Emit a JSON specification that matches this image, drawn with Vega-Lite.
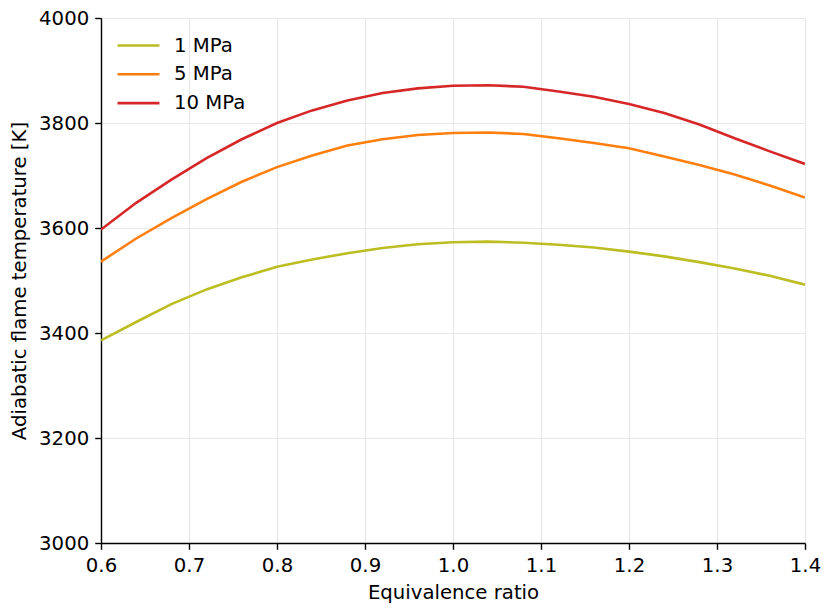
{
  "$schema": "https://vega.github.io/schema/vega-lite/v6.json",
  "width": 704,
  "height": 525,
  "autosize": {"type": "none"},
  "padding": {"left": 101, "top": 18, "right": 20, "bottom": 65},
  "background": "white",
  "config": {
    "view": {"stroke": null},
    "font": "DejaVu Sans",
    "axis": {
      "labelFont": "DejaVu Sans",
      "titleFont": "DejaVu Sans",
      "labelFontSize": 19.7,
      "titleFontSize": 19.7,
      "titleFontWeight": "normal",
      "labelColor": "black",
      "titleColor": "black",
      "domainColor": "black",
      "tickColor": "black",
      "domainWidth": 1.4,
      "tickWidth": 1.4,
      "tickSize": 6.3,
      "labelPadding": 6,
      "gridColor": "#e8e8e8",
      "gridWidth": 1.2,
      "labelOverlap": false,
      "labelFlush": false
    },
    "legend": {
      "labelFont": "DejaVu Sans",
      "labelFontSize": 19.7,
      "labelColor": "black"
    }
  },
  "data": {
    "values": [
      {"phi": 0.60, "T": 3386, "p": "1 MPa"},
      {"phi": 0.64, "T": 3421, "p": "1 MPa"},
      {"phi": 0.68, "T": 3455, "p": "1 MPa"},
      {"phi": 0.72, "T": 3483, "p": "1 MPa"},
      {"phi": 0.76, "T": 3506, "p": "1 MPa"},
      {"phi": 0.80, "T": 3526, "p": "1 MPa"},
      {"phi": 0.84, "T": 3540, "p": "1 MPa"},
      {"phi": 0.88, "T": 3552, "p": "1 MPa"},
      {"phi": 0.92, "T": 3562, "p": "1 MPa"},
      {"phi": 0.96, "T": 3569, "p": "1 MPa"},
      {"phi": 1.00, "T": 3573, "p": "1 MPa"},
      {"phi": 1.04, "T": 3574, "p": "1 MPa"},
      {"phi": 1.08, "T": 3572, "p": "1 MPa"},
      {"phi": 1.12, "T": 3568, "p": "1 MPa"},
      {"phi": 1.16, "T": 3563, "p": "1 MPa"},
      {"phi": 1.20, "T": 3555, "p": "1 MPa"},
      {"phi": 1.24, "T": 3546, "p": "1 MPa"},
      {"phi": 1.28, "T": 3535, "p": "1 MPa"},
      {"phi": 1.32, "T": 3523, "p": "1 MPa"},
      {"phi": 1.36, "T": 3509, "p": "1 MPa"},
      {"phi": 1.40, "T": 3492, "p": "1 MPa"},
      {"phi": 0.60, "T": 3536, "p": "5 MPa"},
      {"phi": 0.64, "T": 3580, "p": "5 MPa"},
      {"phi": 0.68, "T": 3619, "p": "5 MPa"},
      {"phi": 0.72, "T": 3655, "p": "5 MPa"},
      {"phi": 0.76, "T": 3688, "p": "5 MPa"},
      {"phi": 0.80, "T": 3716, "p": "5 MPa"},
      {"phi": 0.84, "T": 3738, "p": "5 MPa"},
      {"phi": 0.88, "T": 3757, "p": "5 MPa"},
      {"phi": 0.92, "T": 3769, "p": "5 MPa"},
      {"phi": 0.96, "T": 3777, "p": "5 MPa"},
      {"phi": 1.00, "T": 3781, "p": "5 MPa"},
      {"phi": 1.04, "T": 3782, "p": "5 MPa"},
      {"phi": 1.08, "T": 3779, "p": "5 MPa"},
      {"phi": 1.12, "T": 3771, "p": "5 MPa"},
      {"phi": 1.16, "T": 3762, "p": "5 MPa"},
      {"phi": 1.20, "T": 3752, "p": "5 MPa"},
      {"phi": 1.24, "T": 3736, "p": "5 MPa"},
      {"phi": 1.28, "T": 3720, "p": "5 MPa"},
      {"phi": 1.32, "T": 3702, "p": "5 MPa"},
      {"phi": 1.36, "T": 3681, "p": "5 MPa"},
      {"phi": 1.40, "T": 3658, "p": "5 MPa"},
      {"phi": 0.60, "T": 3597, "p": "10 MPa"},
      {"phi": 0.64, "T": 3648, "p": "10 MPa"},
      {"phi": 0.68, "T": 3692, "p": "10 MPa"},
      {"phi": 0.72, "T": 3733, "p": "10 MPa"},
      {"phi": 0.76, "T": 3769, "p": "10 MPa"},
      {"phi": 0.80, "T": 3800, "p": "10 MPa"},
      {"phi": 0.84, "T": 3824, "p": "10 MPa"},
      {"phi": 0.88, "T": 3843, "p": "10 MPa"},
      {"phi": 0.92, "T": 3857, "p": "10 MPa"},
      {"phi": 0.96, "T": 3866, "p": "10 MPa"},
      {"phi": 1.00, "T": 3871, "p": "10 MPa"},
      {"phi": 1.04, "T": 3872, "p": "10 MPa"},
      {"phi": 1.08, "T": 3869, "p": "10 MPa"},
      {"phi": 1.12, "T": 3860, "p": "10 MPa"},
      {"phi": 1.16, "T": 3850, "p": "10 MPa"},
      {"phi": 1.20, "T": 3836, "p": "10 MPa"},
      {"phi": 1.24, "T": 3819, "p": "10 MPa"},
      {"phi": 1.28, "T": 3797, "p": "10 MPa"},
      {"phi": 1.32, "T": 3771, "p": "10 MPa"},
      {"phi": 1.36, "T": 3746, "p": "10 MPa"},
      {"phi": 1.40, "T": 3722, "p": "10 MPa"}
    ]
  },
  "mark": {"type": "line", "strokeWidth": 2.6, "clip": true},
  "encoding": {
    "x": {
      "field": "phi",
      "type": "quantitative",
      "title": "Equivalence ratio",
      "scale": {"domain": [0.6, 1.4], "nice": false, "zero": false},
      "axis": {"values": [0.6, 0.7, 0.8, 0.9, 1.0, 1.1, 1.2, 1.3, 1.4], "format": ".1f", "titlePadding": 7}
    },
    "y": {
      "field": "T",
      "type": "quantitative",
      "title": "Adiabatic flame temperature [K]",
      "scale": {"domain": [3000, 4000], "nice": false, "zero": false},
      "axis": {"values": [3000, 3200, 3400, 3600, 3800, 4000], "format": "d", "titlePadding": 9}
    },
    "color": {
      "field": "p",
      "type": "nominal",
      "scale": {"domain": ["1 MPa", "5 MPa", "10 MPa"], "range": ["#bcbd22", "#ff7f0e", "#d62728"]},
      "legend": {
        "title": null,
        "orient": "none",
        "legendX": 26,
        "legendY": 16,
        "padding": 0,
        "symbolType": "M-2.1,0H2.1",
        "symbolSize": 400,
        "symbolStrokeWidth": 2.6,
        "labelOffset": 24,
        "rowPadding": 6.8
      }
    }
  }
}
